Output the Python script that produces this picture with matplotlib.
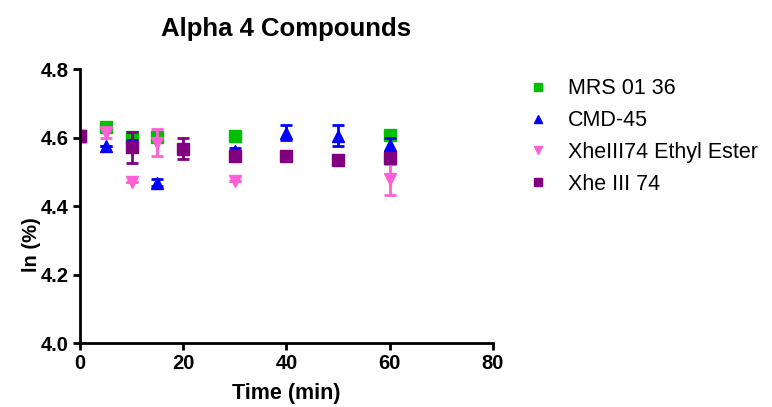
import matplotlib
matplotlib.use("Agg")
import matplotlib.pyplot as plt

plt.rcParams["font.family"] = ["Liberation Sans", "DejaVu Sans"]

# data (mean +/- error)
mrs_x = [0, 5, 10, 15, 30, 60]
mrs_y = [4.605, 4.630, 4.602, 4.603, 4.604, 4.607]
mrs_err = [0.0, 0.012, 0.012, 0.012, 0.012, 0.013]

cmd_x = [0, 5, 10, 15, 30, 40, 50, 60]
cmd_y = [4.605, 4.575, 4.575, 4.468, 4.560, 4.614, 4.606, 4.578]
cmd_err = [0.0, 0.0, 0.018, 0.010, 0.010, 0.022, 0.030, 0.020]

ester_x = [0, 5, 10, 15, 30, 60]
ester_y = [4.605, 4.615, 4.470, 4.585, 4.473, 4.478]
ester_err = [0.0, 0.015, 0.0, 0.040, 0.0, 0.044]

xhe_x = [0, 10, 20, 30, 40, 50, 60]
xhe_y = [4.605, 4.572, 4.568, 4.546, 4.546, 4.536, 4.540]
xhe_err = [0.0, 0.045, 0.030, 0.012, 0.008, 0.0, 0.0]

series = [
    ("MRS 01 36", mrs_x, mrs_y, mrs_err, "#00C000", "s"),
    ("CMD-45", cmd_x, cmd_y, cmd_err, "#0000FF", "^"),
    ("XheIII74 Ethyl Ester", ester_x, ester_y, ester_err, "#FF5FD7", "v"),
    ("Xhe III 74", xhe_x, xhe_y, xhe_err, "#800080", "s"),
]

fig = plt.figure(figsize=(7.72, 4.07), dpi=100)
ax = fig.add_axes([0.1036, 0.157, 0.535, 0.673])

handles = []
for label, x, y, err, color, marker in series:
    ax.errorbar(x, y, yerr=err, fmt="none", ecolor=color, elinewidth=2,
                capsize=4.5, capthick=2)
    h, = ax.plot(x, y, linestyle="none", marker=marker, color=color,
                 markersize=8.5, label=label)
    handles.append(h)

ax.set_xlim(0, 80)
ax.set_ylim(4.0, 4.8)
ax.set_xticks([0, 20, 40, 60, 80])
ax.set_yticks([4.0, 4.2, 4.4, 4.6, 4.8])
ax.set_yticklabels(["4.0", "4.2", "4.4", "4.6", "4.8"])
for side in ["top", "right"]:
    ax.spines[side].set_visible(False)
for side in ["left", "bottom"]:
    ax.spines[side].set_linewidth(2)
ax.tick_params(width=2, length=5, labelsize=14.5, direction="out", pad=3)
for lbl in ax.get_xticklabels() + ax.get_yticklabels():
    lbl.set_fontweight("bold")

ax.set_xlabel("Time (min)", fontsize=15.5, fontweight="bold", labelpad=7)
ax.set_ylabel("ln (%)", fontsize=14.5, fontweight="bold")
ax.yaxis.set_label_coords(-0.095, 0.36)
ax.set_title("Alpha 4 Compounds", fontsize=18.5, fontweight="bold", pad=24)

fig.legend(handles=handles, loc="upper left", bbox_to_anchor=(0.655, 0.855),
           frameon=False, fontsize=15.5, markerscale=0.75, handlelength=1.2,
           handletextpad=0.8, labelspacing=0.5)

fig.savefig("out.png", dpi=100)
